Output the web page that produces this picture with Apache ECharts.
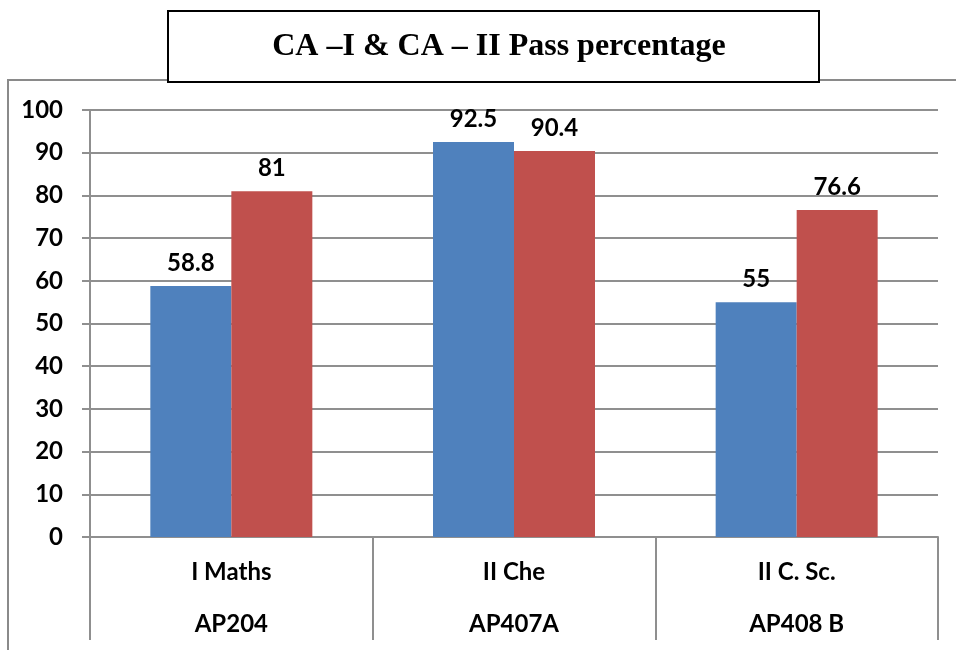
<!DOCTYPE html>
<html>
<head>
<meta charset="utf-8">
<script src="https://cdn.jsdelivr.net/npm/echarts@6/dist/echarts.min.js"></script>
<style>
  html, body { margin: 0; padding: 0; background: #fff; }
  #chart { width: 956px; height: 650px; }
</style>
</head>
<body>
<div id="chart"></div>
<script>
const subjects = ['I Maths', 'II Che', 'II C. Sc.'];
const codes = ['AP204', 'AP407A', 'AP408 B'];
const caOne = [58.8, 92.5, 55];
const caTwo = [81, 90.4, 76.6];
const titleText = 'CA \u2013I & CA \u2013 II Pass percentage';

const chart = echarts.init(document.getElementById('chart'));
const gridColor = '#8f8f8f';
const font = 'Lato, "Open Sans", sans-serif';

const labelStyle = {
  show: true,
  position: 'top',
  distance: 11,
  fontFamily: font,
  fontWeight: 'bold',
  fontSize: 24,
  color: '#000'
};

chart.setOption({
  animation: false,
  title: {
    text: titleText,
    left: 494,
    top: 26,
    textAlign: 'center',
    textStyle: {
      fontFamily: '"Liberation Serif", "Times New Roman", serif',
      fontWeight: 'bold',
      fontSize: 32,
      color: '#000'
    }
  },
  graphic: [
    {
      type: 'rect',
      z: -10,
      silent: true,
      shape: { x: 8, y: 80, width: 960, height: 600 },
      style: { fill: '#fff', stroke: '#8a8a8a', lineWidth: 2 }
    },
    {
      type: 'rect',
      z: -5,
      silent: true,
      shape: { x: 168, y: 11, width: 651, height: 71 },
      style: { fill: '#fff', stroke: '#000', lineWidth: 2 }
    }
  ],
  grid: { left: 90, right: 18, top: 110, bottom: 110, containLabel: false },
  xAxis: {
    type: 'category',
    data: subjects.map((s, i) => s + '\n' + codes[i]),
    axisLine: { show: true, lineStyle: { color: gridColor, width: 2 } },
    axisTick: { show: true, interval: 0, length: 103, lineStyle: { color: gridColor, width: 2 } },
    axisLabel: {
      interval: 0,
      margin: 9,
      fontFamily: font,
      fontWeight: 'bold',
      fontSize: 24,
      lineHeight: 52,
      color: '#000'
    },
    splitLine: { show: false }
  },
  yAxis: {
    type: 'value',
    min: 0,
    max: 100,
    interval: 10,
    axisLine: { show: true, lineStyle: { color: gridColor, width: 2 } },
    axisTick: { show: true, length: 8, lineStyle: { color: gridColor, width: 2 } },
    axisLabel: {
      margin: 27,
      fontFamily: font,
      fontWeight: 'bold',
      fontSize: 24,
      color: '#000'
    },
    splitLine: { show: true, lineStyle: { color: gridColor, width: 2 } }
  },
  series: [
    {
      name: 'CA \u2013 I',
      type: 'bar',
      data: caOne,
      barWidth: 81,
      barGap: '0%',
      itemStyle: { color: '#4F81BD' },
      label: labelStyle
    },
    {
      name: 'CA \u2013 II',
      type: 'bar',
      data: caTwo,
      barWidth: 81,
      barGap: '0%',
      itemStyle: { color: '#C0504D' },
      label: labelStyle
    }
  ]
});
</script>
</body>
</html>
